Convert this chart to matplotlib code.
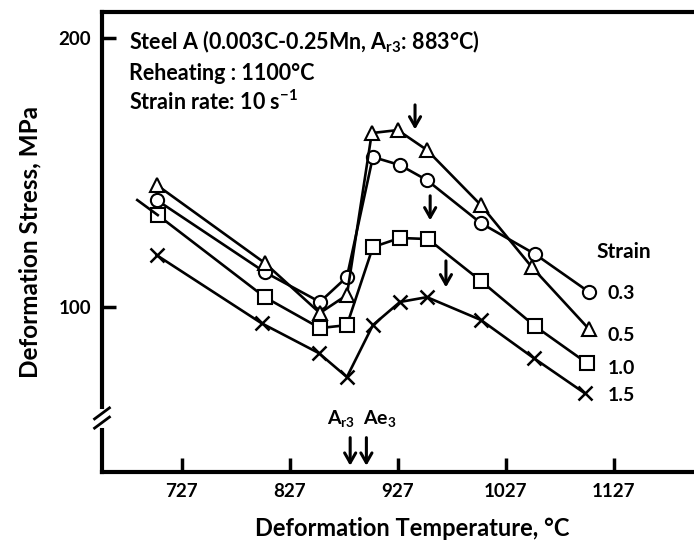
import numpy as np
import matplotlib
matplotlib.use("Agg")
from matplotlib import pyplot as plt

plt.rcParams['font.family'] = ['Lato', 'DejaVu Sans']
plt.rcParams['font.weight'] = 'bold'
plt.rcParams['axes.labelweight'] = 'bold'
plt.rcParams['mathtext.fontset'] = 'custom'
plt.rcParams['mathtext.rm'] = 'Lato:bold'
plt.rcParams['mathtext.it'] = 'Lato:bold'
plt.rcParams['mathtext.bf'] = 'Lato:bold'

# dati (temperatura in °C, sforzo in MPa)
T_03 = [704, 804, 855, 880, 904, 929, 954, 1004, 1054, 1104]
S_03 = [139.8, 113.0, 101.9, 111.2, 155.8, 152.8, 147.2, 131.2, 119.7, 105.6]

T_05 = [704, 804, 855, 880, 903, 927, 954, 1004, 1051, 1104]
S_05 = [145.4, 116.4, 97.8, 104.5, 164.7, 165.8, 158.4, 137.9, 114.9, 91.8]

T_10 = [686, 705, 804, 855, 880, 904, 929, 955, 1004, 1054, 1102]
S_10 = [139.8, 134.2, 103.7, 92.2, 93.3, 122.3, 125.7, 125.3, 109.7, 92.9, 79.2]

T_15 = [704, 801, 854, 880, 904, 929, 954, 1004, 1053, 1100]
S_15 = [119.3, 94.0, 82.9, 74.0, 93.3, 101.9, 103.7, 95.2, 81.0, 68.0]

strain_labels = ["0.3", "0.5", "1.0", "1.5"]
label_y = [105.2, 89.6, 77.0, 67.3]

# frecce dei picchi: (T, inizio, fine)
peak_T = [943, 957, 971.6]
peak_top = [176.2, 142.4, 118.2]
peak_tip = [165.0, 131.2, 106.3]

Ar3 = 883
Ae3 = 898

fig = plt.figure(figsize=(6.94, 5.48), dpi=100)
ax = fig.add_axes([102/694, 76/548, 620/694, 460/548])

lw = 1.9
ms = 9.5
ax.plot(T_03, S_03, color="black", lw=lw, marker="o", ms=ms, mfc="white", mec="black", mew=1.5)
ax.plot(T_05, S_05, color="black", lw=lw, marker="^", ms=ms+1, mfc="white", mec="black", mew=1.5)
ax.plot(T_10[1:], S_10[1:], color="black", lw=lw, marker="s", ms=ms, mfc="white", mec="black", mew=1.5)
ax.plot(T_10[:2], S_10[:2], color="black", lw=lw)
ax.plot(T_15, S_15, color="black", lw=lw, marker="x", ms=ms, mec="black", mew=1.8)

frec = dict(arrowstyle="->,head_length=0.7,head_width=0.4", lw=2.2, color="black")
for t, y0, y1 in zip(peak_T, peak_top, peak_tip):
    ax.annotate("", xy=(t, y1), xytext=(t, y0), arrowprops=frec)

for t in (Ar3, Ae3):
    ax.annotate("", xy=(t, 40.0), xytext=(t, 52.5), arrowprops=frec)
ax.text(Ar3 - 8, 54.5, r"A$_{\mathrm{r3}}$", fontsize=14, ha="center", va="bottom")
ax.text(Ae3 + 12, 54.5, r"Ae$_{3}$", fontsize=14, ha="center", va="bottom")

ax.text(1111, 120.4, "Strain", fontsize=15, ha="left", va="center")
for lab, y in zip(strain_labels, label_y):
    ax.text(1121.5, y, lab, fontsize=14, ha="left", va="center")

ax.text(0.044, 0.935, "Steel A (0.003C-0.25Mn, A$_{\\mathrm{r3}}$: 883°C)", transform=ax.transAxes,
        fontsize=15.5, ha="left", va="center")
ax.text(0.044, 0.867, "Reheating : 1100°C", transform=ax.transAxes, fontsize=15.5, ha="left", va="center")
ax.text(0.044, 0.805, "Strain rate: 10 s$^{-1}$", transform=ax.transAxes, fontsize=15.5, ha="left", va="center")

ax.set_xlim(653.4, 1227)
ax.set_ylim(38.7, 209.7)
ax.set_xticks([727, 827, 927, 1027, 1127])
ax.set_yticks([100, 200])
ax.tick_params(direction="in", length=10, width=2.5, labelsize=13.5, pad=8)
ax.spines["right"].set_visible(False)
for s in ("left", "bottom", "top"):
    ax.spines[s].set_linewidth(3)

# interruzione dell'asse y
by = 1 - (418 - 12) / 460
ax.plot([0, 0], [by - 0.012, by + 0.012], transform=ax.transAxes, color="white", lw=5, clip_on=False, zorder=5)
for dy in (-0.01, 0.01):
    ax.plot([-0.012, 0.012], [by + dy - 0.012, by + dy + 0.012], transform=ax.transAxes,
            color="black", lw=2, clip_on=False, zorder=6)

ax.set_xlabel("Deformation Temperature, °C", fontsize=17, labelpad=12)
ax.set_ylabel("Deformation Stress, MPa", fontsize=17.5, labelpad=12)

fig.savefig("out.png", dpi=100)
